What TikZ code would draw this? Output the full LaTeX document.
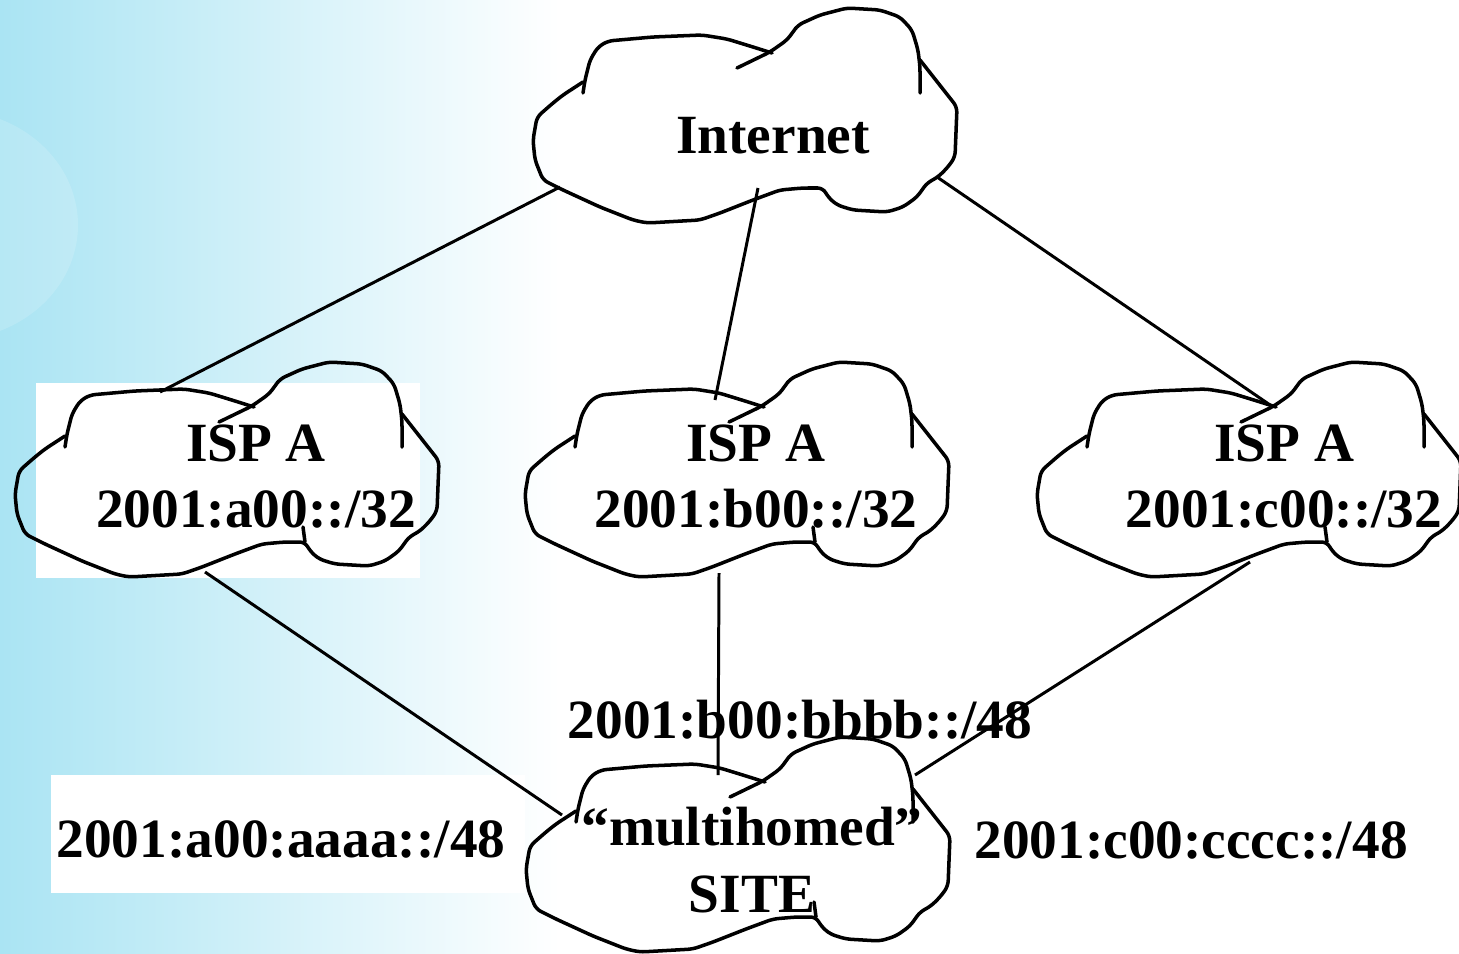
\documentclass[tikz,border=0pt]{standalone}
\usepackage{fontspec}
\setmainfont{Liberation Serif}
\usetikzlibrary{positioning}
\definecolor{skyblue}{RGB}{170,228,243}
\tikzset{
  cloudline/.style={line width=2pt, line join=round, line cap=round, rounded corners=3pt},
  link/.style={line width=1.7pt},
  lbl/.style={font=\fontsize{31.5}{38}\selectfont\bfseries, inner sep=0pt, align=center},
  netcloud/.pic={
    \draw[cloudline] (-162,-23) -- (-160,-36) -- (-155,-56) -- (-147,-69) -- (-137,-75) -- (-92,-79) -- (-43,-81) -- (-18,-77) -- (8,-69) -- (27,-63);
    \draw[cloudline] (-8,-48) -- (25,-64) -- (42,-76) -- (48,-84) -- (53,-91) -- (75,-101) -- (102,-108) -- (135,-106) -- (155,-99) -- (167,-86) -- (173,-66) -- (175,-49) -- (175,-23);
    \draw[cloudline] (175,-56) -- (212,-9) -- (210,41) -- (203,51) -- (193,61) -- (182,67) -- (172,81) -- (158,91) -- (142,96) -- (108,94) -- (92,89) -- (83,81) -- (78,72) -- (58,72) -- (35,74) -- (8,84) -- (-25,97) -- (-45,104) -- (-98,107) -- (-112,104) -- (-145,91) -- (-182,74) -- (-202,64) -- (-210,44) -- (-212,24) -- (-208,1) -- (-192,-13) -- (-182,-21) -- (-162,-34);
  }
}
\begin{document}
\begin{tikzpicture}[x=0.02cm,y=-0.02cm]
\useasboundingbox (0,0) rectangle (1459,953);
% sky on the left
\shade[left color=skyblue, right color=white] (0,0) rectangle (560,953);
\fill[white, opacity=0.15] (-50,225) ellipse (128 and 115);
% white boxes
\fill[white] (36,383) rectangle (420,578);
\fill[white] (51,775) rectangle (525,893);

% labels
\node[lbl, anchor=base] (inettxt) at (773,153) {Internet};
\node[lbl, anchor=north] (ispatxt) at (256,424) {ISP A\\2001:a00::/32};
\node[lbl, anchor=north] (ispbtxt) at (756,424) {ISP A\\2001:b00::/32};
\node[lbl, anchor=north] (ispctxt) at (1284,424) {ISP A\\2001:c00::/32};
\node[lbl, anchor=north] (sitetxt) at (752,807) {“multihomed”\\SITE};
\node[lbl, anchor=base] (pfxb) at (800,738) {2001:b00:bbbb::/48};
\node[lbl, anchor=base] (pfxa) at (281,857) {2001:a00:aaaa::/48};
\node[lbl, anchor=base] (pfxc) at (1191,858) {2001:c00:cccc::/48};

% clouds
\coordinate (inet) at (745,116);
\coordinate (ispa) at (227,470);
\coordinate (ispb) at (737,470);
\coordinate (ispc) at (1249,470);
\coordinate (site) at (738,845);
\foreach \c in {inet,ispa,ispb,ispc,site}
  \pic at (\c) {netcloud};
\foreach \c in {ispa,ispb,ispc,site}
  \draw[cloudline] ([shift={(76,57)}]\c) -- ([shift={(78,72)}]\c);

% link ends
\coordinate (inet-a) at (560,187);
\coordinate (inet-b) at (758,188);
\coordinate (inet-c) at (937,177);
\coordinate (ispa-up) at (160,392);
\coordinate (ispb-up) at (715,400);
\coordinate (ispc-up) at (1273,407);
\coordinate (ispa-dn) at (205,572);
\coordinate (ispb-dn) at (719,573);
\coordinate (ispc-dn) at (1250,562);
\coordinate (site-a) at (562,815);
\coordinate (site-b) at (718,775);
\coordinate (site-c) at (915,775);

\draw[link] (inet-a) -- (ispa-up);
\draw[link] (inet-b) -- (ispb-up);
\draw[link] (inet-c) -- (ispc-up);
\draw[link] (ispa-dn) -- (site-a);
\draw[link] (ispb-dn) -- (site-b);
\draw[link] (ispc-dn) -- (site-c);
\end{tikzpicture}
\end{document}
